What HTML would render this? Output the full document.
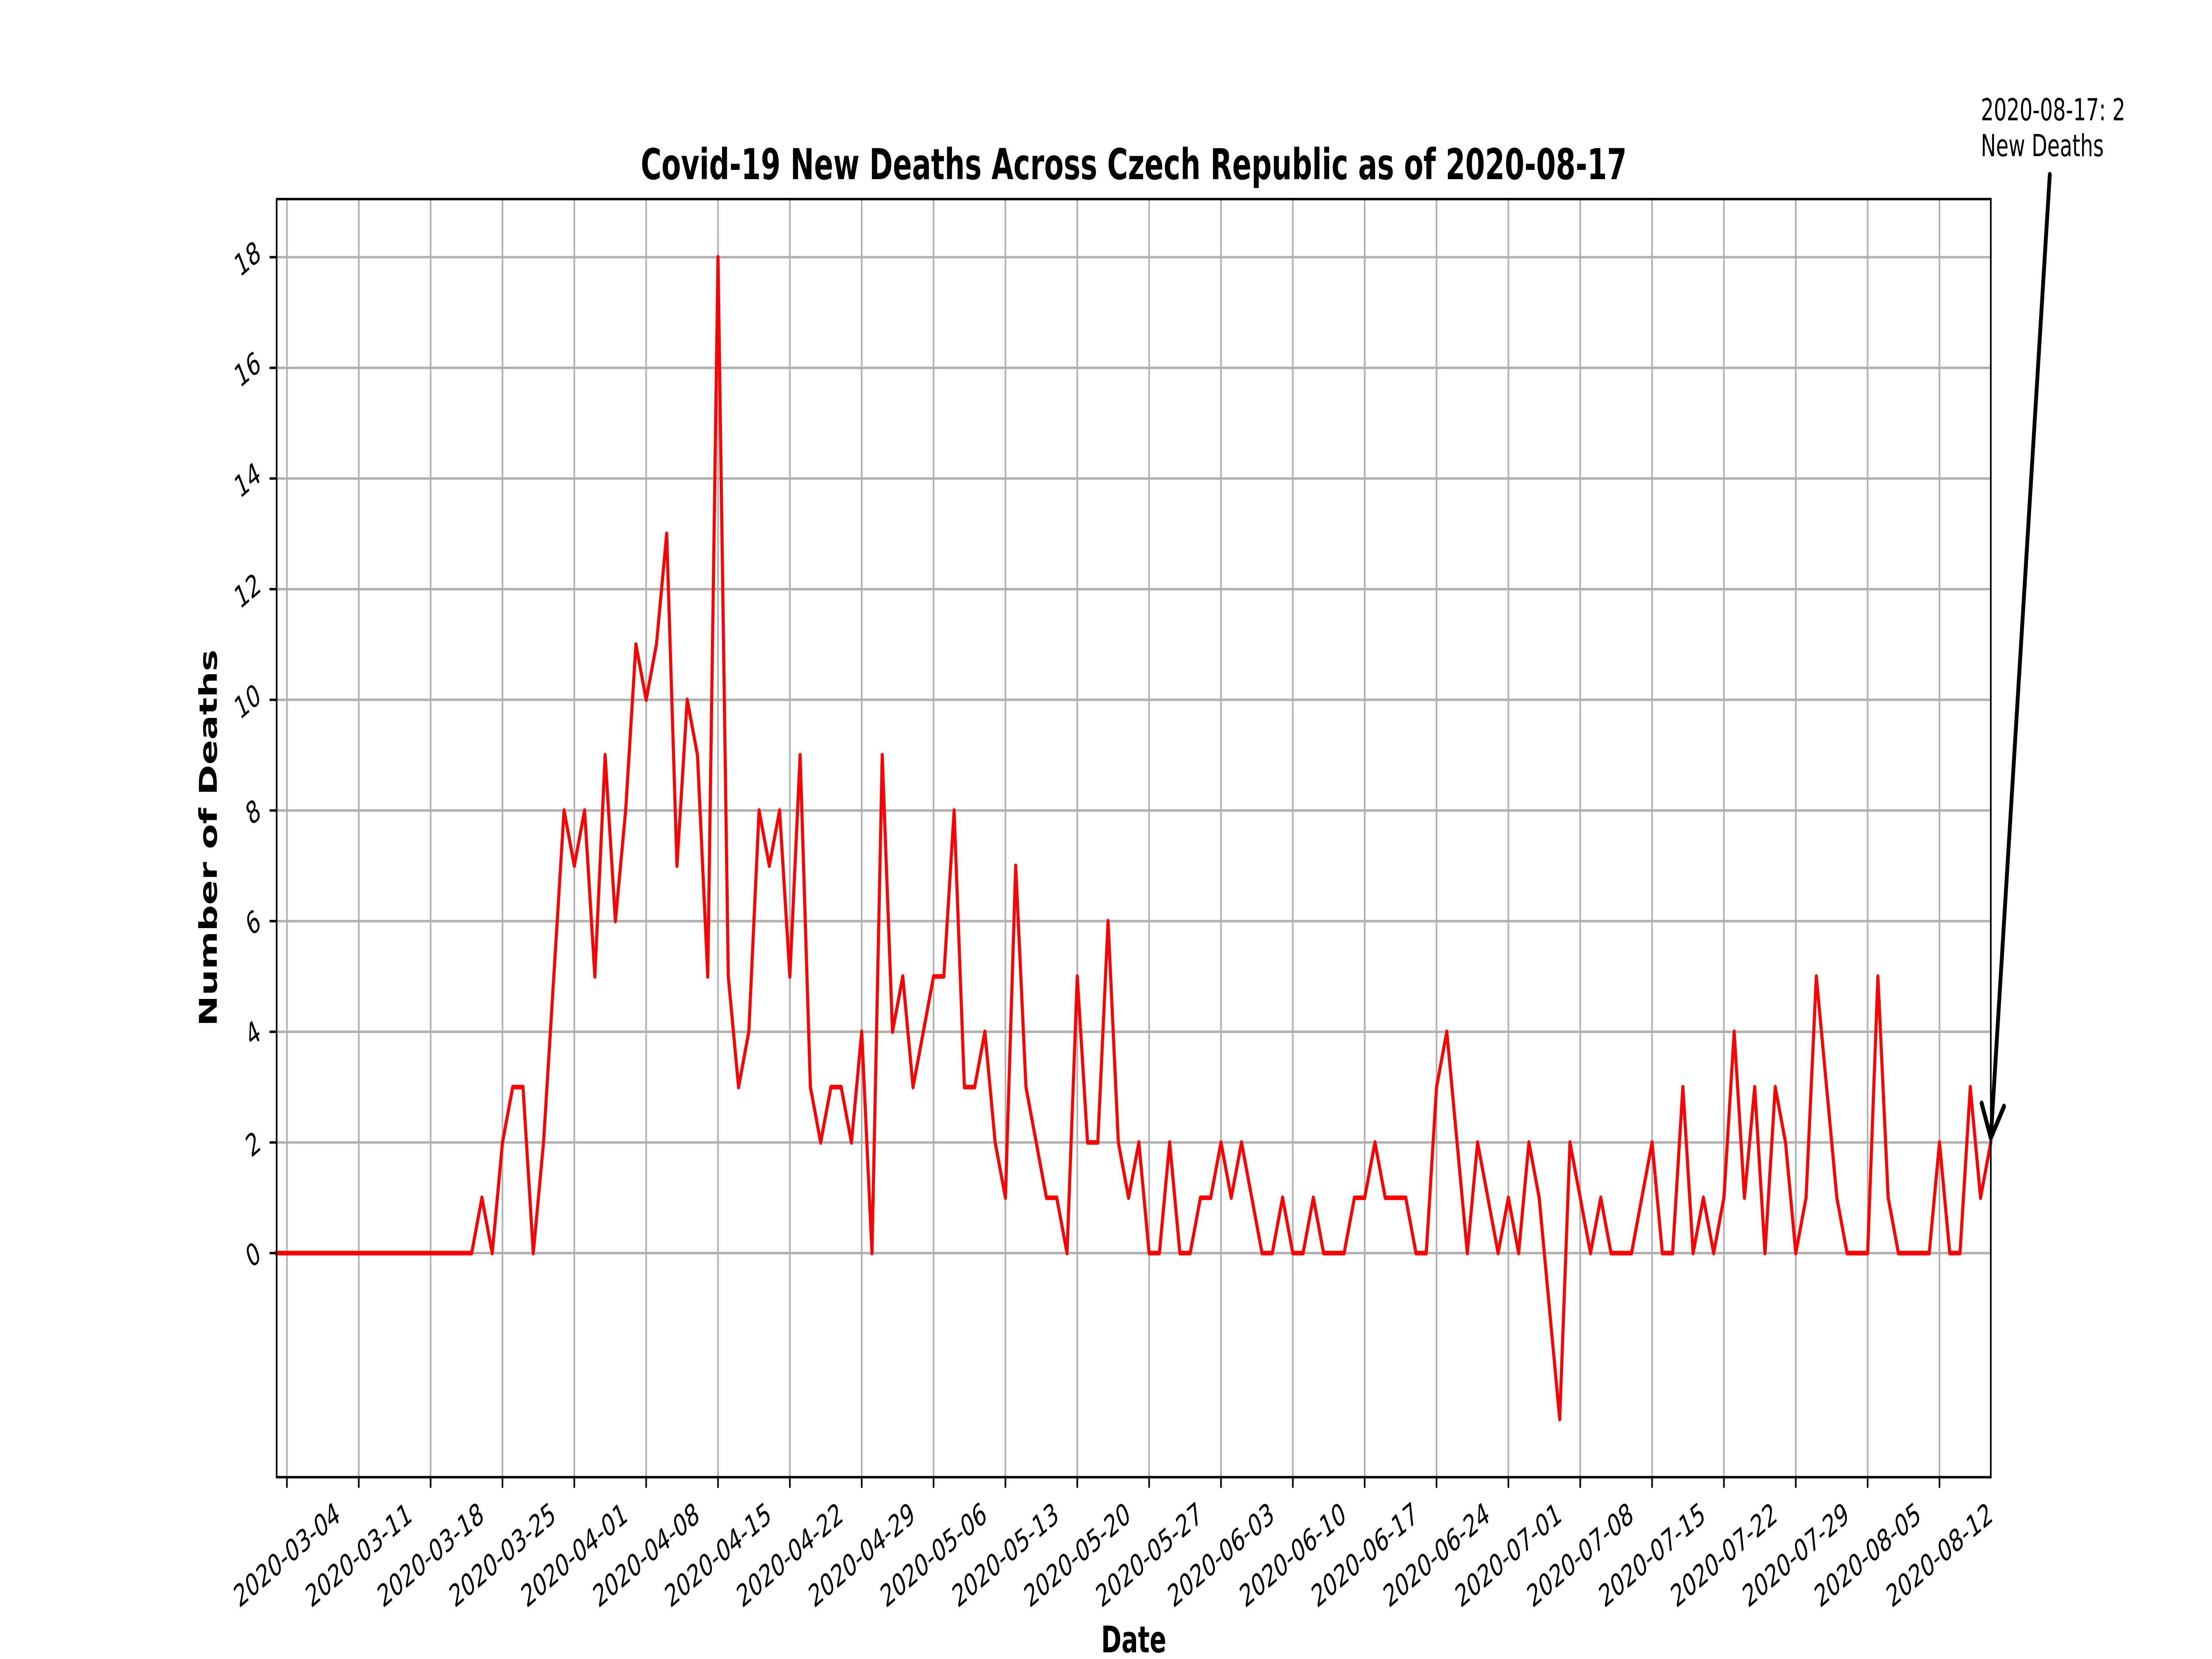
<!DOCTYPE html>
<html><head><meta charset="utf-8"><title>Covid-19 New Deaths Czech Republic</title>
<style>html,body{margin:0;padding:0;background:#fff;width:100%;height:100%;overflow:hidden}svg{display:block;width:100vw;height:100vh}text{font-family:"DejaVu Sans","Liberation Sans",sans-serif}</style>
</head><body>
<svg id="chart" viewBox="0 0 7500 3750" preserveAspectRatio="none" xmlns="http://www.w3.org/2000/svg">
<rect x="0" y="0" width="7500" height="3750" fill="#fff"/>
<g id="grid"></g>
<g id="series"></g>
<rect x="938" y="450" width="5812" height="2889" fill="none" stroke="#000" stroke-width="5.5"/>
<g id="axes"></g>
<text x="3844" y="405" text-anchor="middle" font-size="96" font-weight="bold">Covid-19 New Deaths Across Czech Republic as of 2020-08-17</text>
<text x="3844" y="3735" text-anchor="middle" font-size="83" font-weight="bold">Date</text>
<text x="0" y="0" transform="translate(735,1894) rotate(-90)" text-anchor="middle" font-size="83" font-weight="bold">Number of Deaths</text>
<g>
<text x="6716" y="272" font-size="69"><tspan x="6716">2020-08-17: 2</tspan><tspan x="6716" dy="81">New Deaths</tspan></text>
<line id="annLine" x1="6950" y1="395" x2="6750" y2="2560" stroke="#000" stroke-width="13" stroke-linecap="round"/>
<path id="annHead" d="" fill="none" stroke="#000" stroke-width="13" stroke-linecap="round" stroke-linejoin="round"/>
</g>
</svg>
<script>
var startDate = "2020-03-03";
var endDate = "2020-08-17";
var newDeaths = [
0,0,0,0,0,0,0,0,0,0,0,0,0,0,0,0,0,0,0,0,
1,0,2,3,3,0,2,5,8,
7,8,5,9,6,8,11,10,11,13,7,10,9,5,18,5,3,4,8,7,8,5,9,3,2,3,3,2,4,0,
9,4,5,3,4,5,5,8,3,3,4,2,1,7,3,2,1,1,0,5,2,2,6,2,1,2,0,0,2,0,0,
1,1,2,1,2,1,0,0,1,0,0,1,0,0,0,1,1,2,1,1,1,0,0,3,4,2,0,2,1,0,
1,0,2,1,-1,-3,2,1,0,1,0,0,0,1,2,0,0,3,0,1,0,1,4,1,3,0,3,2,0,1,5,
3,1,0,0,0,5,1,0,0,0,0,2,0,0,3,1,2
];
var xTickLabels = ["2020-03-04","2020-03-11","2020-03-18","2020-03-25","2020-04-01","2020-04-08","2020-04-15","2020-04-22","2020-04-29","2020-05-06","2020-05-13","2020-05-20","2020-05-27","2020-06-03","2020-06-10","2020-06-17","2020-06-24","2020-07-01","2020-07-08","2020-07-15","2020-07-22","2020-07-29","2020-08-05","2020-08-12"];
var yTickValues = [0,2,4,6,8,10,12,14,16,18];
var yMin = -4.05, yMax = 19.05;

var NS = "http://www.w3.org/2000/svg";
var L = 938, R = 6750, T = 450, B = 3339;
function dayNum(s){ return Date.UTC(+s.slice(0,4), +s.slice(5,7)-1, +s.slice(8,10))/86400000; }
var d0 = dayNum(startDate), d1 = dayNum(endDate);
function xScale(day){ return L + (day - d0) / (d1 - d0) * (R - L); }
function yScale(v){ return B - (v - yMin) / (yMax - yMin) * (B - T); }
function mk(tag, attrs, parent){ var e = document.createElementNS(NS, tag); for (var k in attrs) e.setAttribute(k, attrs[k]); parent.appendChild(e); return e; }

var grid = document.getElementById('grid');
var axes = document.getElementById('axes');
var series = document.getElementById('series');

xTickLabels.forEach(function(lbl){
  var x = xScale(dayNum(lbl));
  var g = mk('line', {x1:x, x2:x, y1:T, y2:B, stroke:'#b0b0b0', 'stroke-width':5.5}, grid);
  
  
  var t = mk('line', {x1:x, x2:x, y1:B, y2:B+24, stroke:'#000', 'stroke-width':5.5}, axes);
  
  
  var tx = mk('text', {x:0, y:0, transform:'translate('+x+',3515) rotate(-30)', 'text-anchor':'middle', 'dominant-baseline':'central', 'font-size':69}, axes);
  tx.textContent = lbl;
  
  
});

yTickValues.forEach(function(v){
  var y = yScale(v);
  var g = mk('line', {x1:L, x2:R, y1:y, y2:y, stroke:'#b0b0b0', 'stroke-width':5.5}, grid);
  
  
  var t = mk('line', {x1:L-24, x2:L, y1:y, y2:y, stroke:'#000', 'stroke-width':5.5}, axes);
  
  
  var s = String(v);
  var w = s.length * 44;
  var cx = 893 - (0.866 * w + 31) / 2;
  var tx = mk('text', {x:0, y:0, transform:'translate('+cx+','+(y+4)+') rotate(-30)', 'text-anchor':'middle', 'dominant-baseline':'central', 'font-size':69}, axes);
  tx.textContent = s;
  
  
});

var pts = newDeaths.map(function(v, i){ return xScale(d0 + i).toFixed(1) + ',' + yScale(v).toFixed(1); });
var line = mk('polyline', {points:pts.join(' '), fill:'none', stroke:'#ff0000', 'stroke-width':10.4, 'stroke-linejoin':'round', 'stroke-linecap':'square'}, series);



var lastX = xScale(d0 + newDeaths.length - 1), lastY = yScale(newDeaths[newDeaths.length - 1]);
var al = document.getElementById('annLine');
al.setAttribute('x2', lastX); al.setAttribute('y2', lastY - 10);
var dx = 6950 - lastX, dy = 395 - lastY, len = Math.sqrt(dx*dx + dy*dy);
var ux = dx/len, uy = dy/len, hl = 75, hw = 38;
var tipX = lastX, tipY = lastY - 10;
var bx = tipX + ux*hl, by = tipY + uy*hl;
document.getElementById('annHead').setAttribute('d',
  'M' + (bx - uy*hw) + ',' + (by + ux*hw) + ' L' + tipX + ',' + tipY + ' L' + (bx + uy*hw) + ',' + (by - ux*hw));
</script>
</body></html>
